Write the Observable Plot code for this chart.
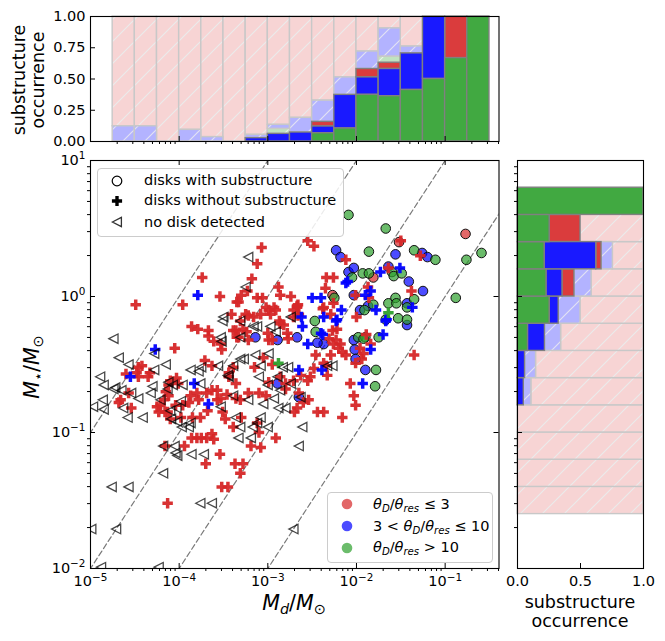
<!DOCTYPE html>
<html>
<head>
<meta charset="utf-8">
<script src="https://cdn.jsdelivr.net/npm/d3@7"></script>
<script src="https://cdn.jsdelivr.net/npm/@observablehq/plot@0.6"></script>
<style>
  body { margin: 0; background: #fff; font-family: "DejaVu Sans", sans-serif; }
  #wrap { position: relative; width: 665px; height: 641px; overflow: hidden; background: #fff; }
  #wrap svg.plotsvg { position: absolute; left: 0; top: 0; }
  .lab { position: absolute; color: #000; white-space: nowrap; font-family: "DejaVu Sans", sans-serif; }
  .lab sub { font-size: 70%; vertical-align: -0.3em; line-height: 0; }
  .rot { transform: translate(-50%, -50%) rotate(-90deg); text-align: center; }
  .legbox { position: absolute; border: 1px solid #cccccc; border-radius: 4px; background: rgba(255,255,255,0.85); }
  .legtxt { position: absolute; font-size: 14.5px; line-height: 20px; height: 20px; white-space: nowrap; }
  .legtxt sub { font-size: 70%; vertical-align: -0.3em; line-height: 0; }
  .legmk { position: absolute; width: 16px; height: 16px; overflow: visible; }
</style>
</head>
<body>
<svg width="0" height="0" style="position:absolute">
  <defs>
    <pattern id="hp" patternUnits="userSpaceOnUse" width="22" height="22">
      <rect width="22" height="22" fill="#f7d4d4"></rect>
      <path d="M-5.5,5.5 L5.5,-5.5 M0,22 L22,0 M16.5,27.5 L27.5,16.5" stroke="#ebebeb" stroke-width="1.2"></path>
    </pattern>
    <pattern id="hb" patternUnits="userSpaceOnUse" width="22" height="22">
      <rect width="22" height="22" fill="#b3b3ff"></rect>
      <path d="M-5.5,5.5 L5.5,-5.5 M0,22 L22,0 M16.5,27.5 L27.5,16.5" stroke="#e2e2f4" stroke-width="1.2"></path>
    </pattern>
    <pattern id="hg" patternUnits="userSpaceOnUse" width="22" height="22">
      <rect width="22" height="22" fill="#c0e2c0"></rect>
      <path d="M-5.5,5.5 L5.5,-5.5 M0,22 L22,0 M16.5,27.5 L27.5,16.5" stroke="#e8f2e8" stroke-width="1.2"></path>
    </pattern>
  </defs>
</svg>
<div id="wrap"></div>
<script>
// ---------------- DATA ----------------
// Disks with substructure: log10(Md/Msun), log10(M*/Msun), resolution class (r: <=3, b: 3-10, g: >10)
const circLogMd = [-2.09,-1.67,-0.77,-1.52,-1.86,-2.23,-2.18,-1.56,-1.35,-1.26,-1.20,-1.11,-0.76,-0.59,-2.09,-2.03,-2.05,-1.93,-1.86,-1.81,-1.64,-1.60,-1.58,-1.49,-1.41,-1.25,-2.27,-2.25,-2.03,-0.88,-1.96,-1.91,-1.87,-1.81,-1.64,-1.56,-1.55,-1.43,-1.43,-1.35,-1.67,-1.53,-1.43,-1.43,-2.37,-2.03,-1.98,-1.90,-1.92,-1.75,-2.02,-2.01,-1.90,-1.78,-2.47,-2.46,-3.14,-2.89,-2.67,-2.44,-2.89,-2.65,-1.79];
const circLogMs = [0.60,0.50,0.46,0.40,0.33,0.34,0.29,0.31,0.34,0.32,0.29,0.27,0.27,0.32,0.18,0.21,0.14,0.17,0.17,0.14,0.22,0.18,0.15,0.17,0.11,0.04,0.01,-0.01,0.01,-0.01,-0.10,-0.10,-0.07,-0.06,-0.05,-0.01,-0.05,-0.05,-0.08,-0.02,-0.17,-0.16,-0.17,-0.21,-0.35,-0.32,-0.30,-0.30,-0.31,-0.30,-0.39,-0.46,-0.54,-0.54,-0.18,-0.26,-0.30,-0.32,-0.30,-0.34,-0.64,-0.74,-0.66];
const circCat   = ["g","g","r","r","g","b","b","b","g","b","b","g","g","g","b","b","g","g","g","r","b","g","g","g","b","b","r","g","b","g","b","g","b","g","g","g","g","b","g","g","g","g","g","b","b","b","g","g","g","g","b","b","b","g","g","g","b","b","b","b","b","b","g"];

// Disks without substructure
const plusRedLogMd = [-3.74,-3.54,-3.35,-4.49,-3.96,-3.41,-3.86,-3.79,-3.67,-3.67,-3.36,-3.61,-3.53,-3.52,-3.35,-4.05,-3.71,-3.63,-4.46,-4.42,-4.48,-4.60,-4.33,-4.46,-4.35,-4.03,-4.01,-4.12,-3.39,-3.44,-3.44,-3.36,-3.07,-3.12,-3.18,-3.30,-3.12,-3.06,-3.02,-2.88,-2.86,-2.74,-2.66,-2.55,-2.48,-2.34,-2.26,-2.35,-2.12,-3.39,-3.25,-3.16,-3.08,-2.97,-2.93,-2.87,-2.82,-2.71,-2.67,-2.65,-2.37,-2.29,-2.00,-1.64,-1.50,-1.28,-1.38,-1.87,-1.86,-2.01,-2.18,-2.16,-1.96,-1.89,-1.84,-2.01,-1.94,-2.37,-2.34,-1.35,-2.22,-2.31,-2.26,-3.33,-2.38,-2.67,-2.99,-2.91,-2.71,-3.22,-3.31,-3.33,-2.86,-2.78,-2.77,-3.00,-2.99,-2.95,-3.22,-2.27,-2.23,-2.20,-2.12,-2.46,-2.29,-1.92,-2.52,-2.86,-2.99,-2.80,-2.07,-2.63,-2.55,-2.80,-4.66,-4.54,-4.57,-4.15,-4.21,-4.23,-4.16,-4.12,-4.04,-4.10,-3.96,-3.89,-3.87,-3.80,-3.78,-3.63,-3.69,-3.53,-3.51,-3.48,-3.36,-3.39,-3.76,-3.86,-3.80,-3.75,-3.69,-3.63,-3.61,-4.16,-3.94,-3.54,-3.70,-3.37,-3.28,-3.52,-3.45,-4.13,-3.31,-3.22,-3.10,-3.02,-3.31,-3.30,-3.12,-3.10,-2.91,-3.19,-3.08,-2.70,-2.67,-2.60,-2.54,-2.44,-2.37,-2.16,-2.03,-2.01,-2.65,-4.68,-2.71,-2.48,-2.33,-3.28,-2.66,-2.26,-3.05,-2.95,-3.15,-4.10,-4.25,-4.17,-4.13,-3.98,-3.85,-3.68,-3.57,-3.46,-3.57,-3.23,-3.24];
const plusRedLogMs = [0.14,0.00,-0.04,-0.06,-0.06,-0.13,-0.22,-0.24,-0.25,-0.29,-0.25,-0.33,-0.35,-0.39,-0.30,-0.38,-0.47,-0.51,-0.52,-0.51,-0.56,-0.57,-0.56,-0.59,-0.59,-0.60,-0.64,-0.65,-0.52,-0.56,-0.59,-0.64,0.36,0.24,0.13,0.01,-0.01,-0.01,-0.08,0.07,0.01,0.00,-0.06,0.41,0.37,0.14,0.14,0.06,0.27,-0.25,-0.13,-0.15,-0.13,-0.13,-0.08,-0.18,-0.21,-0.10,-0.08,-0.13,-0.08,-0.13,-0.15,0.21,0.41,0.30,0.04,0.07,-0.01,0.01,-0.35,-0.41,-0.38,-0.28,-0.35,-0.49,-0.46,-0.49,-0.51,-0.43,-0.24,-0.31,-0.35,-0.04,-0.09,-0.07,-0.10,-0.10,-0.15,-0.14,-0.18,-0.30,-0.20,-0.27,-0.31,-0.27,-0.32,-0.32,-0.32,-0.25,-0.32,-0.38,-0.43,-0.43,-0.43,-0.42,-0.59,-0.59,-0.63,-0.64,-0.64,-0.58,-0.62,-0.68,-0.76,-0.82,-0.71,-0.70,-0.80,-0.85,-0.85,-0.73,-0.80,-0.90,-0.80,-0.78,-0.73,-0.71,-0.76,-0.69,-0.71,-0.75,-0.85,-0.90,-0.75,-0.96,-0.89,-1.04,-1.04,-1.04,-1.04,-1.01,-1.05,-1.10,-1.10,-1.16,-1.23,-1.23,-1.23,-1.40,-1.40,-1.52,-1.30,-0.71,-0.71,-0.73,-0.76,-0.89,-0.93,-1.00,-1.04,-1.10,-1.11,-0.85,-0.82,-0.78,-0.76,-0.85,-0.85,-0.89,-0.73,-0.80,-0.71,-0.78,-0.62,-0.53,-0.58,-0.24,-0.14,-0.05,-0.45,-0.50,-0.52,-0.62,-0.81,-0.76,-0.85,-0.89,-0.89,-0.84,-0.69,-0.72,-0.76,0.04,-0.26];
const plusBlueLogMd = [-3.79,-4.27,-4.55,-3.83,-3.67,-2.12,-2.50,-2.40,-2.17,-2.23,-2.37,-2.62,-2.61,-2.55,-2.38,-2.65,-2.39,-1.93,-1.84,-1.84,-1.90,-1.78,-1.70,-1.67,-1.73,-1.51,-2.10,-1.37,-2.22,-1.66,-2.40];
const plusBlueLogMs = [0.01,-0.39,-0.59,-0.64,-0.79,0.10,-0.01,-0.01,-0.10,-0.18,-0.15,-0.15,-0.22,-0.35,-0.28,-0.54,-0.54,-0.64,-0.39,0.04,0.01,-0.10,-0.28,-0.18,0.18,0.21,0.11,-0.08,-0.17,-0.17,-0.27];
const plusGreenLogMd = [-2.88,-1.64];
const plusGreenLogMs = [-0.49,-0.12];

// No disk detected (upper limits on Md)
const ndLogMd = [-3.22,-3.25,-3.51,-3.31,-3.16,-3.53,-3.52,-2.74,-2.97,-3.50,-2.91,-2.27,-4.74,-4.68,-4.57,-4.89,-4.85,-4.74,-4.97,-4.86,-4.63,-4.58,-4.41,-4.30,-4.28,-4.28,-4.15,-4.12,-4.13,-4.21,-3.87,-3.78,-3.75,-3.56,-3.44,-3.39,-4.07,-3.96,-3.76,-4.72,-4.85,-4.65,-4.54,-4.46,-4.32,-4.18,-4.05,-4.04,-4.02,-3.86,-3.72,-4.18,-4.76,-4.57,-3.76,-3.63,-4.99,-4.71,-4.88,-4.23,-4.09,-4.02,-3.97,-3.89,-4.10,-4.03,-3.98,-3.87,-3.53,-3.36,-3.39,-3.31,-3.12,-3.14,-2.99,-3.31,-3.45,-3.27,-3.08,-2.83,-2.77,-3.10,-3.00,-2.89,-2.74,-2.63,-2.33,-2.61,-2.65,-3.12,-3.31,-3.17,-3.00,-3.33,-3.19,-3.22,-3.05,-2.93,-2.88,-2.80,-2.86,-3.08,-2.71];
const ndLogMs = [0.29,0.07,-0.18,-0.18,-0.22,-0.30,-0.33,-0.15,-0.22,-0.15,-0.26,-0.51,-0.31,-0.45,-0.50,-0.59,-0.65,-0.68,-0.81,-0.76,-0.82,-0.89,-0.89,-0.66,-0.42,-0.54,-0.50,-0.63,-0.68,-0.76,-0.54,-0.55,-0.52,-0.51,-0.59,-0.51,-0.65,-0.65,-0.64,-0.67,-0.83,-0.69,-0.71,-0.75,-0.71,-1.10,-1.10,-1.15,-1.17,-1.16,-1.16,-1.30,-1.40,-1.40,-1.52,-1.52,-1.71,-1.71,-1.99,-1.99,-0.90,-0.92,-0.96,-0.96,-0.84,-0.82,-0.77,-0.93,-0.81,-0.89,-0.73,-0.30,-0.22,-0.43,-0.42,-0.46,-0.58,-0.46,-0.51,-0.52,-0.52,-0.59,-0.65,-0.59,-0.64,-0.74,-0.51,-0.96,-1.10,-0.93,-0.96,-0.96,-0.96,-1.04,-1.04,-0.76,-0.79,-0.75,-0.82,-0.82,-0.69,-0.89,-1.71];

// Top panel: substructure occurrence per log10(Md) bin (fractions of each group)
const topEdges  = [-4.75,-4.5,-4.25,-4.0,-3.75,-3.5,-3.25,-3.0,-2.75,-2.5,-2.25,-2.0,-1.75,-1.5,-1.25,-1.0,-0.75,-0.5];
const topGreen  = [0,0,0,0,0,0,0,0,0,0.066,0.104,0.373,0.362,0.412,0.5,0.667,1.0];
const topBlue   = [0,0,0,0,0,0,0.027,0.061,0.072,0.054,0.269,0.14,0.218,0.293,0.5,0,0];
const topRed    = [0,0,0,0,0,0,0,0,0,0.037,0,0.067,0.05,0,0,0.333,0];
const topLGreen = [0,0,0,0,0,0,0,0.039,0,0,0,0,0.048,0,0,0,0];
const topLBlue  = [0.122,0.122,0,0.093,0.035,0,0.026,0.033,0.117,0.17,0.14,0.14,0.227,0.055,0,0,0];

// Right panel: substructure occurrence per log10(M*) bin (bottom to top)
const rightEdges  = [-1.6,-1.4,-1.2,-1.0,-0.8,-0.6,-0.4,-0.2,0.0,0.2,0.4,0.6,0.8];
const rightGreen  = [0,0,0,0,0,0,0.083,0.255,0.23,0.215,0.255,1.0];
const rightBlue   = [0,0,0,0,0.05,0.06,0.135,0.072,0.127,0.41,0,0];
const rightRed    = [0,0,0,0,0,0,0,0,0.095,0.042,0.245,0];
const rightLGreen = [0,0,0,0,0,0,0,0,0,0,0,0];
const rightLBlue  = [0,0,0,0,0.06,0.087,0.128,0.173,0.136,0.09,0,0];

// Ticks
const xMajor = [1e-5,1e-4,1e-3,1e-2,1e-1];
const yMajor = [1e-2,1e-1,1,10];
const minorMult = [2,3,4,5,6,7,8,9];
const occTicks = [0,0.25,0.5,0.75,1];
const occTicksR = [0,0.5,1];
const ratioLines = [10,100,1000,10000];

// ---------------- BUILD ----------------
const W = 665, H = 641;
const XMAX = 0.405;
const xMinor = xMajor.flatMap(b => minorMult.map(m => m * b)).filter(v => v < XMAX);
const yMinor = [1e-2,1e-1,1].flatMap(b => minorMult.map(m => m * b));

const fmtPow = d => "10|" + String(Math.round(Math.log10(d))).replace("-", "\u2212");

const circ = circLogMd.map((v,i) => ({md: 10**v, ms: 10**circLogMs[i], c: circCat[i]}));
const mk = (a,b) => a.map((v,i) => ({md: 10**v, ms: 10**b[i]}));
const plusR = mk(plusRedLogMd, plusRedLogMs);
const plusB = mk(plusBlueLogMd, plusBlueLogMs);
const plusG = mk(plusGreenLogMd, plusGreenLogMs);
const nd = mk(ndLogMd, ndLogMs);
const lineData = ratioLines.flatMap(k => [1e-7, 2].map(x => ({k, x, y: k * x})));

const COL = {r: "#d62728", b: "#0000ff", g: "#2ca02c"};
const kindStyle = {
  p:  {fill: "url(#hp)", stroke: "#c8c8c8"},
  lb: {fill: "url(#hb)", stroke: "#c8c8c8"},
  lg: {fill: "url(#hg)", stroke: "#c8c8c8"},
  r:  {fill: "rgba(214,39,40,0.9)", stroke: "#808080"},
  b:  {fill: "rgba(0,0,255,0.9)", stroke: "#808080"},
  g:  {fill: "rgba(44,160,44,0.9)", stroke: "#808080"}
};
const order = ["p","lb","lg","r","b","g"];

function stack(edges, G, B, R, LG, LB) {
  const out = [];
  for (let i = 0; i < edges.length - 1; i++) {
    const segs = [["g",G[i]],["b",B[i]],["r",R[i]],["lg",LG[i]],["lb",LB[i]]];
    let acc = 0;
    for (const [k,v] of segs) if (v > 0) { out.push({k, e0: edges[i], e1: edges[i+1], a: acc, b: acc + v}); acc += v; }
    if (acc < 0.999) out.push({k: "p", e0: edges[i], e1: edges[i+1], a: acc, b: 1});
  }
  return out;
}
const topRects = stack(topEdges, topGreen, topBlue, topRed, topLGreen, topLBlue);
const rightRects = stack(rightEdges, rightGreen, rightBlue, rightRed, rightLGreen, rightLBlue);

const triLeft = {
  draw(ctx, size) {
    const r = Math.sqrt(size / Math.PI);
    ctx.moveTo(-r, 0);
    ctx.lineTo(r * 0.95, -r);
    ctx.lineTo(r * 0.95, r);
    ctx.closePath();
  }
};

const baseStyle = {fontFamily: "DejaVu Sans, sans-serif", fontSize: "14.5px", background: "none", overflow: "visible", color: "#000"};
const blank = () => "";

// Main scatter
const mL = 90, mR = 166.5, mT = 160, mB = 73;
const fW = W - mL - mR, fH = H - mT - mB;
const mainPlot = Plot.plot({
  width: W, height: H, marginLeft: mL, marginRight: mR, marginTop: mT, marginBottom: mB,
  x: {type: "log", domain: [1e-5, XMAX]},
  y: {type: "log", domain: [1e-2, 10]},
  style: baseStyle,
  marks: [
    Plot.line(lineData, {x: "x", y: "y", z: "k", stroke: "#7a7a7a", strokeWidth: 1.2, strokeDasharray: "5.5,3", clip: true}),
    ...["r","b","g"].map(c => Plot.dot(circ.filter(d => d.c === c), {x: d => d.md, y: d => d.ms, r: 4.8, fill: COL[c], fillOpacity: 0.7, stroke: "#111", strokeWidth: 1, clip: true})),
    Plot.dot(plusR, {x: d => d.md, y: d => d.ms, symbol: "cross", r: 4.4, fill: COL.r, fillOpacity: 0.95, stroke: "none", clip: true}),
    Plot.dot(plusB, {x: d => d.md, y: d => d.ms, symbol: "cross", r: 4.4, fill: COL.b, fillOpacity: 0.95, stroke: "none", clip: true}),
    Plot.dot(plusG, {x: d => d.md, y: d => d.ms, symbol: "cross", r: 4.4, fill: COL.g, fillOpacity: 0.95, stroke: "none", clip: true}),
    Plot.dot(nd, {x: d => d.md, y: d => d.ms, symbol: triLeft, r: 4.7, fill: "none", stroke: "#000", strokeOpacity: 0.72, strokeWidth: 1.3, clip: true}),
    Plot.frame({stroke: "#000", strokeWidth: 1.1}),
    Plot.axisX({ticks: xMinor, tickSize: 3, tickFormat: blank, label: null}),
    Plot.axisY({ticks: yMinor, tickSize: 3, tickFormat: blank, label: null}),
    Plot.axisX({ticks: xMajor, tickSize: 0, tickPadding: 7.5, tickFormat: fmtPow, label: null}),
    Plot.axisY({ticks: yMajor, tickSize: 0, tickPadding: 5, tickFormat: fmtPow, label: null}),
    Plot.tickX(xMajor, {x: d => d, insetTop: fH - 5, stroke: "#000"}),
    Plot.tickX(xMajor, {x: d => d, insetBottom: fH - 5, stroke: "#000"}),
    Plot.tickY(yMajor, {y: d => d, insetRight: fW - 5, stroke: "#000"}),
    Plot.tickY(yMajor, {y: d => d, insetLeft: fW - 5, stroke: "#000"})
  ]
});

// Top histogram
const tT = 16, tB = H - 141;
const tH = H - tT - tB;
const topPlot = Plot.plot({
  width: W, height: H, marginLeft: mL, marginRight: mR, marginTop: tT, marginBottom: tB,
  x: {type: "log", domain: [1e-5, XMAX]},
  y: {domain: [0, 1]},
  style: baseStyle,
  marks: [
    ...order.map(k => Plot.rect(topRects.filter(d => d.k === k), {x1: d => 10**d.e0, x2: d => 10**d.e1, y1: d => d.a, y2: d => d.b, fill: kindStyle[k].fill, stroke: kindStyle[k].stroke, strokeWidth: 1.4})),
    Plot.frame({stroke: "#000", strokeWidth: 1.1}),
    Plot.axisX({ticks: xMinor, tickSize: 3, tickFormat: blank, label: null}),
    Plot.tickX(xMajor, {x: d => d, insetTop: tH - 5, stroke: "#000"}),
    Plot.axisY({ticks: occTicks, tickSize: 0, tickPadding: 5, tickFormat: d3.format(".2f"), label: null}),
    Plot.tickY(occTicks, {y: d => d, insetRight: fW - 5, stroke: "#000"})
  ]
});

// Right histogram
const rL = 517, rR = W - 643;
const rW = W - rL - rR;
const rightPlot = Plot.plot({
  width: W, height: H, marginLeft: rL, marginRight: rR, marginTop: mT, marginBottom: mB,
  x: {domain: [0, 1]},
  y: {type: "log", domain: [1e-2, 10]},
  style: baseStyle,
  marks: [
    ...order.map(k => Plot.rect(rightRects.filter(d => d.k === k), {x1: d => d.a, x2: d => d.b, y1: d => 10**d.e0, y2: d => 10**d.e1, fill: kindStyle[k].fill, stroke: kindStyle[k].stroke, strokeWidth: 1.4})),
    Plot.frame({stroke: "#000", strokeWidth: 1.1}),
    Plot.axisY({ticks: yMinor, tickSize: 3, tickFormat: blank, label: null}),
    Plot.tickY(yMajor, {y: d => d, insetRight: rW - 5, stroke: "#000"}),
    Plot.axisX({ticks: occTicksR, tickSize: 0, tickPadding: 7.5, tickFormat: d3.format(".1f"), label: null}),
    Plot.tickX(occTicksR, {x: d => d, insetTop: fH - 5, stroke: "#000"})
  ]
});

// turn "10|-5" tick texts into 10 with a raised exponent
const NS = "http://www.w3.org/2000/svg";
for (const t of mainPlot.querySelectorAll("text")) {
  const s = t.textContent;
  if (!s.includes("|")) continue;
  const [b, e] = s.split("|");
  t.textContent = "";
  const t1 = document.createElementNS(NS, "tspan");
  t1.textContent = b;
  const t2 = document.createElementNS(NS, "tspan");
  t2.textContent = e;
  t2.setAttribute("font-size", "0.72em");
  t2.setAttribute("dy", "-0.55em");
  t.append(t1, t2);
}

const wrap = document.getElementById("wrap");
for (const s of [topPlot, rightPlot, mainPlot]) { s.classList.add("plotsvg"); wrap.appendChild(s); }

// ---------------- TEXT & LEGENDS ----------------
const sym = {
  circleOpen: '<circle cx="8" cy="8" r="4.8" fill="none" stroke="#000" stroke-width="1.2"/>',
  plus: '<path d="M6.3,2.9h3.4v3.4h3.4v3.4h-3.4v3.4h-3.4v-3.4h-3.4v-3.4h3.4z" fill="#000"/>',
  tri: '<path d="M3.4,8 L12.4,3.4 L12.4,12.6 Z" fill="none" stroke="#000" stroke-opacity="0.8" stroke-width="1.3"/>',
  dot: c => `<circle cx="8" cy="8" r="5.3" fill="${c}" fill-opacity="0.7"/>`
};
const th = '<i>θ</i><sub><i>D</i></sub>/<i>θ</i><sub><i>res</i></sub>';
const legend1 = [["circleOpen","disks with substructure",180.7],["plus","disks without substructure",200.7],["tri","no disk detected",222]];
const legend2 = [[COL.r, th + " ≤ 3", 504],[COL.b, "3 &lt; " + th + " ≤ 10", 526],[COL.g, th + " &gt; 10", 547.5]];

let html = '';
html += '<div class="legbox" style="left:97px;top:168px;width:245px;height:67px"></div>';
for (const [s, t, y] of legend1) {
  html += `<svg class="legmk" style="left:${117.3-8}px;top:${y-8}px" viewBox="0 0 16 16">${sym[s]}</svg>`;
  html += `<div class="legtxt" style="left:144px;top:${y-10.5}px">${t}</div>`;
}
html += '<div class="legbox" style="left:327px;top:491.5px;width:164px;height:69px"></div>';
for (const [c, t, y] of legend2) {
  html += `<svg class="legmk" style="left:${347.3-8}px;top:${y-8}px" viewBox="0 0 16 16">${sym.dot(c)}</svg>`;
  html += `<div class="legtxt" style="left:373px;top:${y-10.5}px">${t}</div>`;
}
// axis labels
html += '<div class="lab" style="left:194px;top:593px;width:200px;text-align:center;font-size:20.5px;line-height:20.5px"><i>M</i><sub><i>d</i></sub>/<i>M</i><sub>⊙</sub></div>';
html += '<div class="lab rot" style="left:32px;top:367px;font-size:20.5px;line-height:20.5px"><i>M</i><sub>⋆</sub>/<i>M</i><sub>⊙</sub></div>';
html += '<div class="lab rot" style="left:28.5px;top:79.5px;font-size:17.5px;line-height:19px">substructure<br>occurrence</div>';
html += '<div class="lab" style="left:480px;top:593px;width:200px;text-align:center;font-size:17.5px;line-height:19px">substructure<br>occurrence</div>';
wrap.insertAdjacentHTML("beforeend", html);
</script>
</body>
</html>
